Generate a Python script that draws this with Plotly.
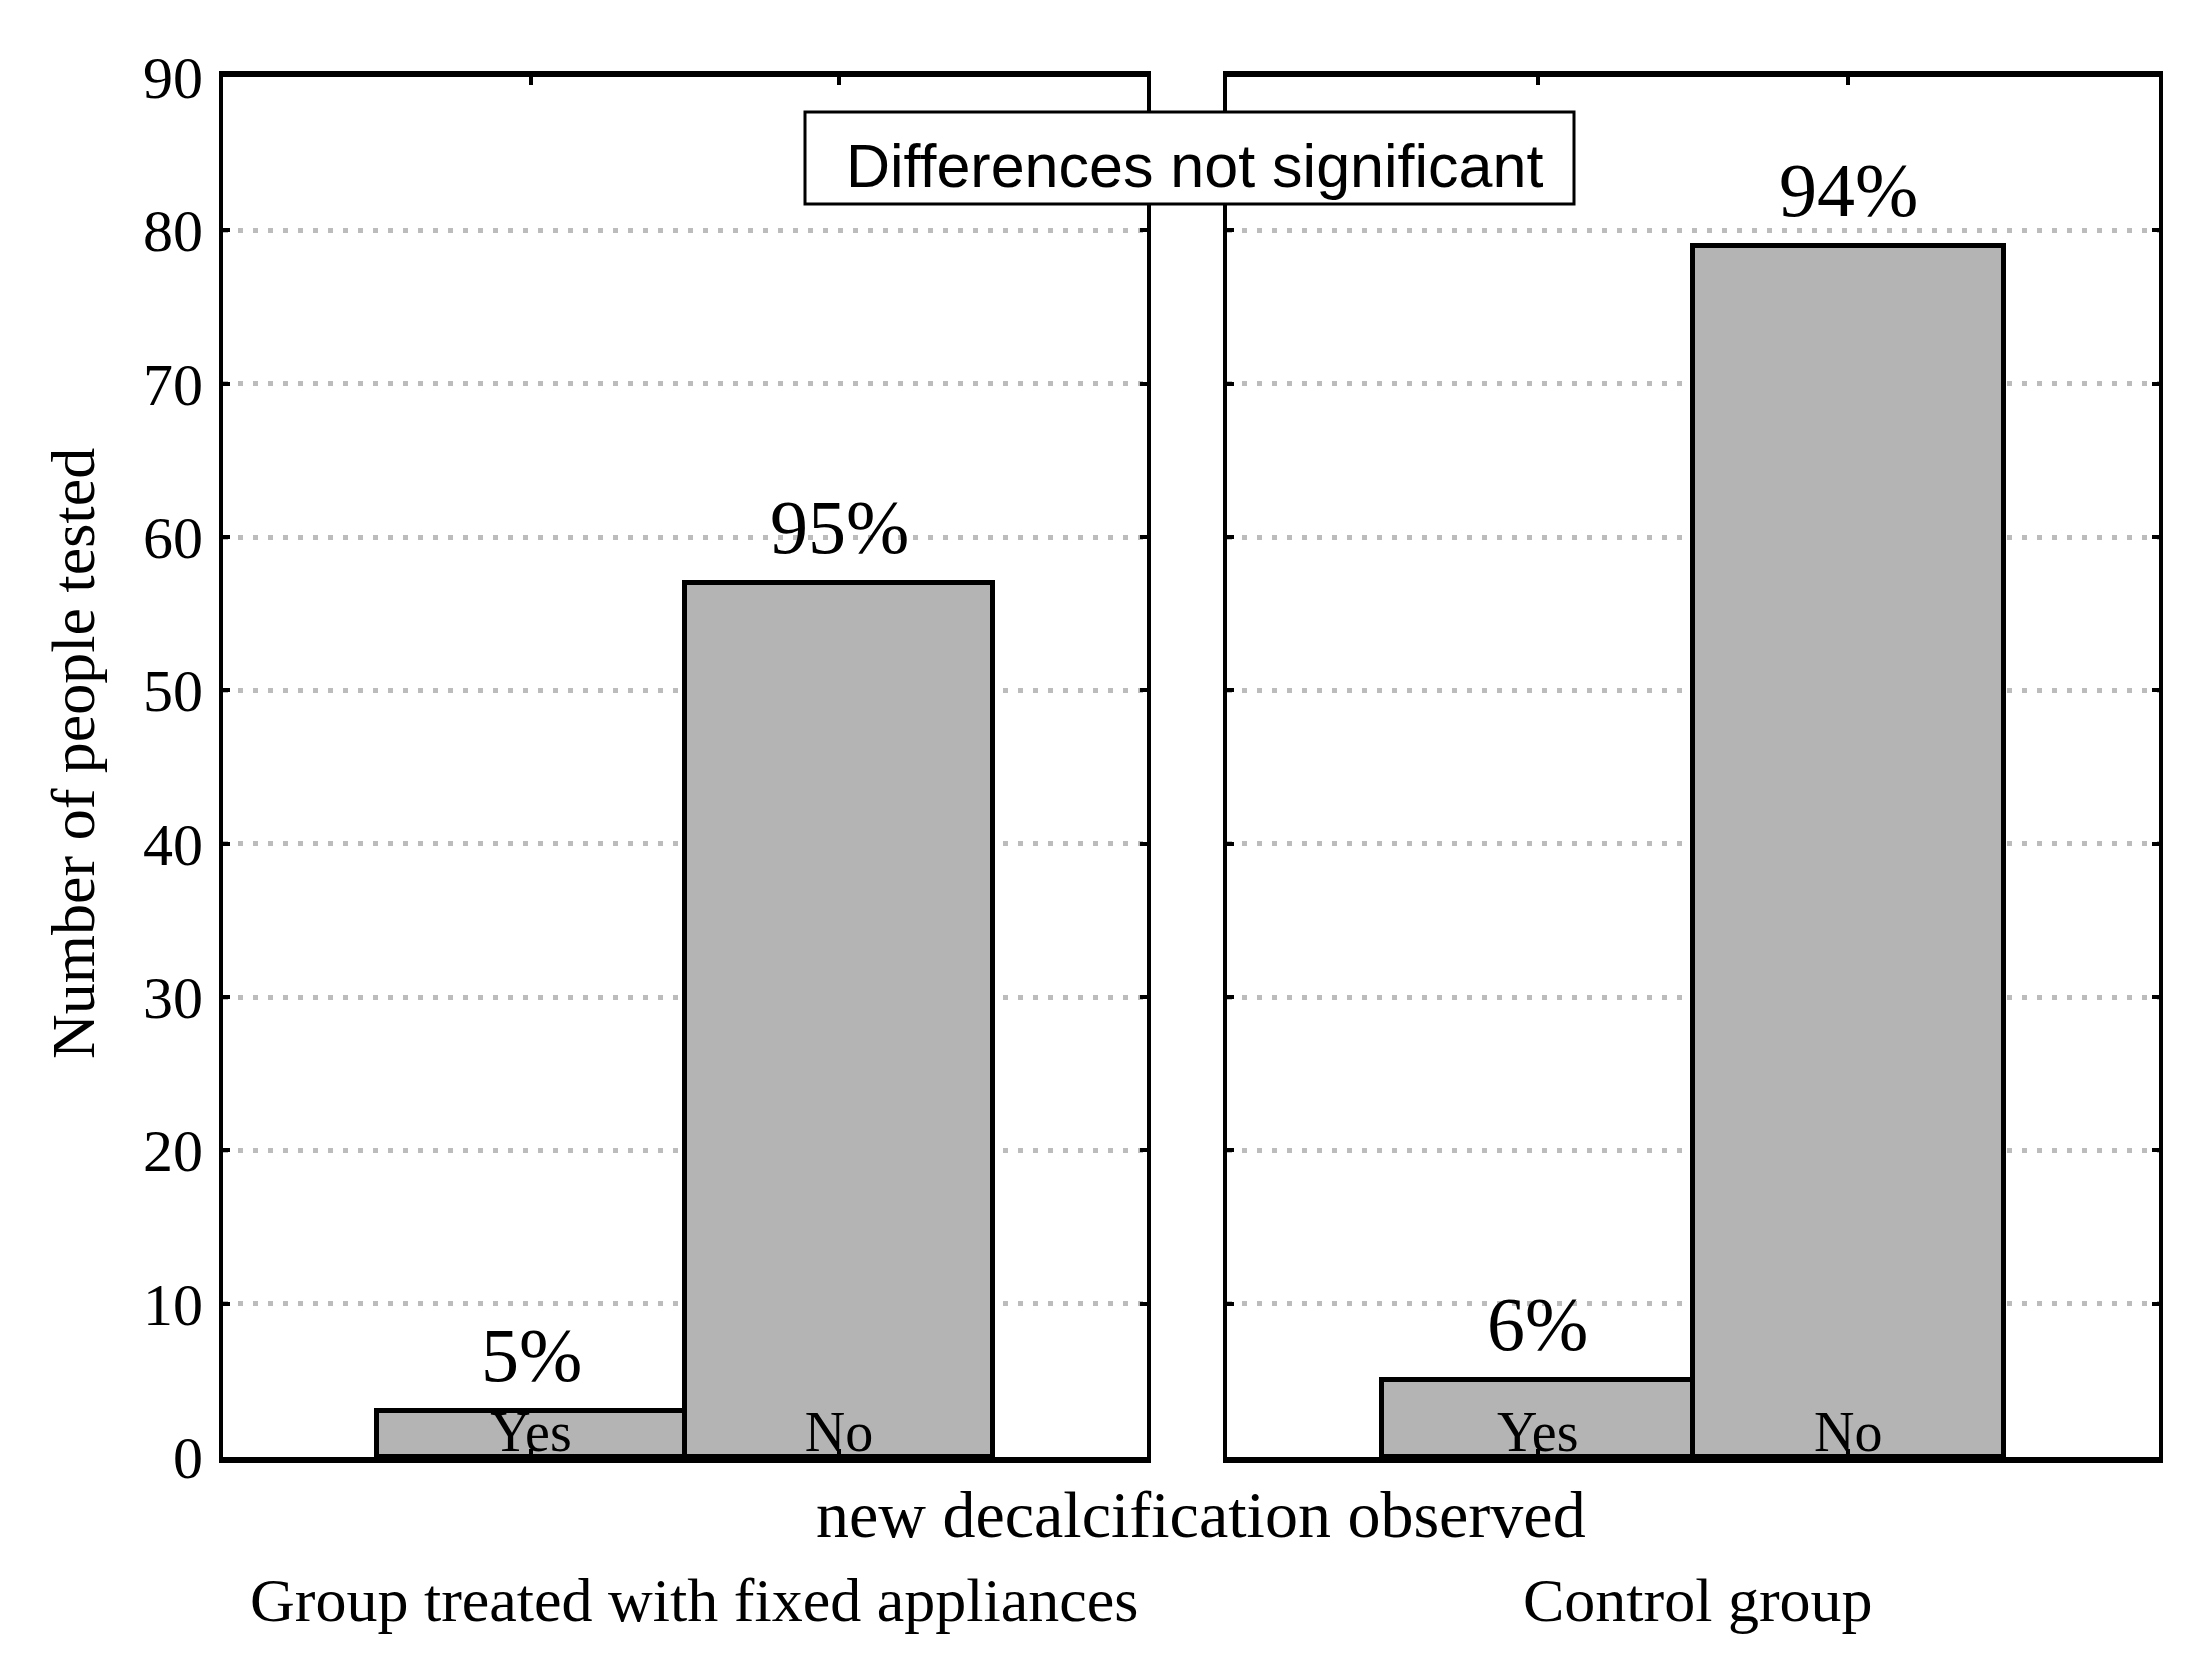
import plotly.graph_objects as go

# ---- data ----
categories = ["Yes", "No"]
group_names = ["Group treated with fixed appliances", "Control group"]
treated_counts = [3, 57]
control_counts = [5, 79]
y_ticks = [0, 10, 20, 30, 40, 50, 60, 70, 80, 90]
x_title = "new decalcification observed"
y_title = "Number of people tested"
note_text = "Differences not significant"

W, H = 2208, 1675
ML, MR, MT, MB = 223, 49, 77, 218
PW = W - ML - MR
PH = H - MT - MB


def px_x(px):
    return (px - ML) / PW


def px_y(py):
    return (H - MB - py) / PH


serif = "Liberation Serif"
sans = "Liberation Sans"
bar_fill = "#b4b4b4"

fig = go.Figure()
series = [treated_counts, control_counts]
for i, vals in enumerate(series):
    xa = "x" if i == 0 else "x2"
    ya = "y" if i == 0 else "y2"
    fig.add_trace(go.Bar(
        x=categories, y=vals, xaxis=xa, yaxis=ya,
        marker=dict(color=bar_fill, line=dict(color="black", width=5)),
        showlegend=False, hoverinfo="skip",
    ))
    total = sum(vals)
    for c, v in zip(categories, vals):
        fig.add_annotation(
            x=c, y=v, xref=xa, yref=ya, text=f"{round(100 * v / total)}%",
            showarrow=False, yanchor="bottom", yshift=12,
            font=dict(family=serif, size=76, color="black"),
        )

xaxis_common = dict(
    type="category", range=[-1, 2], showline=True, linewidth=6, linecolor="black",
    mirror="ticks", ticks="inside", ticklen=8, tickwidth=4, tickcolor="black",
    ticklabelposition="outside", ticklabelstandoff=-79,
    tickfont=dict(family=serif, size=56, color="black"),
    showgrid=False, zeroline=False, fixedrange=True,
)
yaxis_common = dict(
    range=[0, 90], tickvals=y_ticks, showline=True, linewidth=4, linecolor="black",
    mirror="ticks", ticks="inside", ticklen=7, tickwidth=4, tickcolor="black",
    showgrid=True, gridcolor="#bcbcbc", gridwidth=5, griddash="5px,10px",
    zeroline=False, fixedrange=True, domain=[0, 1], ticklabelstandoff=4,
    tickfont=dict(family=serif, size=60, color="black"),
)

fig.update_layout(
    width=W, height=H,
    margin=dict(l=ML, r=MR, t=MT, b=MB),
    paper_bgcolor="white", plot_bgcolor="white",
    bargap=0,
    xaxis=dict(domain=[0, px_x(1147)], **xaxis_common),
    xaxis2=dict(domain=[px_x(1227), 1], **xaxis_common),
    yaxis=dict(anchor="x", **yaxis_common),
    yaxis2=dict(anchor="x2", matches="y", showticklabels=False, **yaxis_common),
)

# note box
fig.add_shape(type="rect", xref="paper", yref="paper",
              x0=px_x(805), x1=px_x(1574), y0=px_y(204), y1=px_y(112),
              fillcolor="white", line=dict(color="black", width=3), layer="above")
fig.add_annotation(x=px_x(1194), y=px_y(166), xref="paper", yref="paper",
                   text=note_text, showarrow=False, xanchor="center", yanchor="middle",
                   font=dict(family=sans, size=61, color="black"))

# titles
fig.add_annotation(x=px_x(73), y=px_y(754), xref="paper", yref="paper",
                   text=y_title, textangle=-90, showarrow=False,
                   xanchor="center", yanchor="middle",
                   font=dict(family=serif, size=62, color="black"))
fig.add_annotation(x=px_x(1201), y=px_y(1514), xref="paper", yref="paper",
                   text=x_title, showarrow=False, xanchor="center", yanchor="middle",
                   font=dict(family=serif, size=66, color="black"))
for name, cx in zip(group_names, [694, 1698]):
    fig.add_annotation(x=px_x(cx), y=px_y(1600), xref="paper", yref="paper",
                       text=name, showarrow=False, xanchor="center", yanchor="middle",
                       font=dict(family=serif, size=62, color="black"))

fig.write_html("out.html", config={"displayModeBar": False},
               post_script="document.body.style.margin='0px';")
